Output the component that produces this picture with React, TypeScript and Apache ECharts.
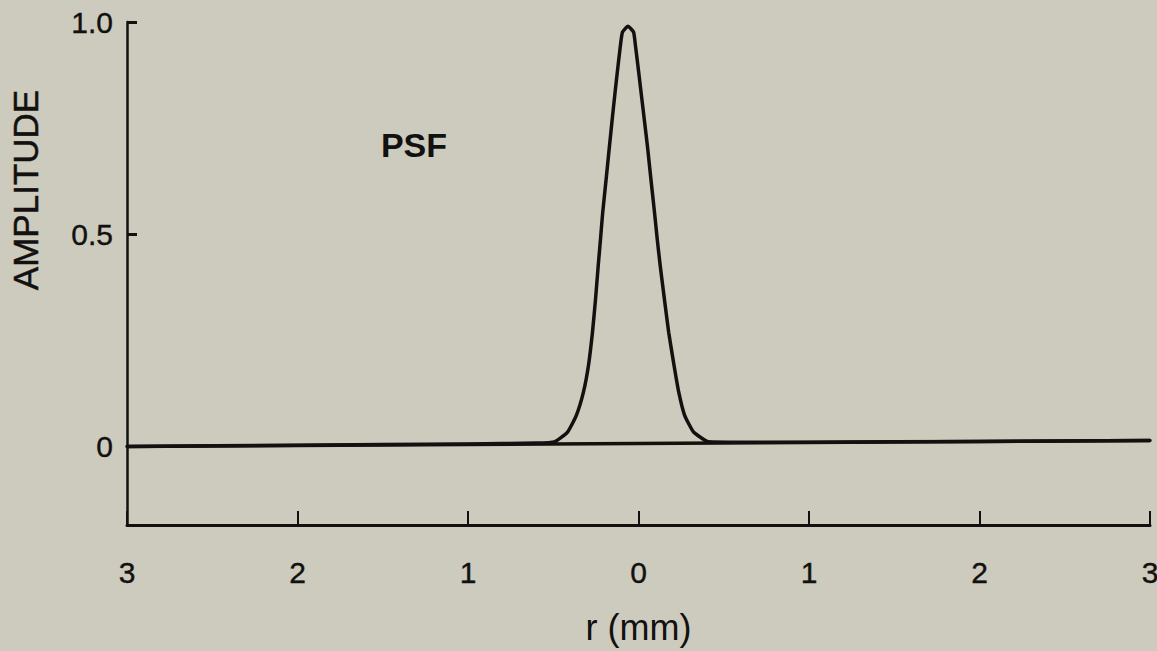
import React, { useEffect, useRef } from "react";
import * as echarts from "echarts";

// r (mm) positions, left to right
const rValues = [
  -3, -2, -1, -0.6, -0.493, -0.416, -0.364, -0.323, -0.293, -0.27, -0.252, -0.236,
  -0.223, -0.21, -0.19, -0.17, -0.15, -0.129, -0.106, -0.094, -0.062, -0.029,
  -0.018, 0.006, 0.029, 0.052, 0.073, 0.094, 0.11, 0.127, 0.152, 0.177, 0.208,
  0.236, 0.27, 0.323, 0.411, 0.6, 1, 2, 3,
];
// PSF amplitude at each r
const amplitude = [
  0, 0.003, 0.006, 0.008, 0.011, 0.034, 0.074, 0.128, 0.192, 0.269, 0.347, 0.427,
  0.488, 0.551, 0.629, 0.709, 0.787, 0.865, 0.945, 0.976, 0.99, 0.976,
  0.945, 0.865, 0.787, 0.709, 0.629, 0.551, 0.488, 0.427, 0.347, 0.269, 0.192,
  0.128, 0.074, 0.034, 0.011, 0.01, 0.01, 0.012, 0.014,
];
// straight zero line drawn under the peak
const baselineR = [-3, 3];
const baselineAmp = [0, 0.014];

const yLabelValues = [0, 0.5, 1];
const yTickValues = [0.5, 1];

const xAxisTitle = "r (mm)";
const yAxisTitle = "AMPLITUDE";
const curveLabel = "PSF";

const INK = "#121110";
const FONT = "'Liberation Sans', Arial, Helvetica, sans-serif";

export default function App() {
  const ref = useRef<HTMLDivElement>(null);

  useEffect(() => {
    if (!ref.current) return;
    const chart = echarts.init(ref.current, null, { renderer: "svg" });
    const curve = rValues.map((r, i) => [r, amplitude[i]]);
    const base = baselineR.map((r, i) => [r, baselineAmp[i]]);

    const boldish = { textBorderColor: INK, textBorderWidth: 0.4 };

    chart.setOption({
      animation: false,
      backgroundColor: "#cdcbbd",
      textStyle: { fontFamily: FONT, color: INK },
      grid: {
        left: 127,
        right: 7,
        top: 22,
        bottom: 126,
        containLabel: false,
        outerBoundsMode: "none",
      },
      xAxis: {
        type: "value",
        min: -3,
        max: 3,
        interval: 1,
        name: xAxisTitle,
        nameLocation: "middle",
        nameGap: 84,
        nameTextStyle: { fontSize: 36, color: INK, fontFamily: FONT },
        axisLine: { show: true, onZero: false, lineStyle: { color: INK, width: 3 } },
        axisTick: { show: true, inside: true, length: 14, lineStyle: { color: INK, width: 2 } },
        axisLabel: {
          show: true,
          fontSize: 30,
          color: INK,
          margin: 32,
          fontFamily: FONT,
          hideOverlap: false,
          ...boldish,
          formatter: (v: number) => String(Math.abs(Math.round(v))),
        },
        splitLine: { show: false },
      },
      yAxis: {
        type: "value",
        min: -0.185,
        max: 1,
        axisLine: { show: true, onZero: false, lineStyle: { color: INK, width: 2.5 } },
        axisTick: {
          show: true,
          inside: true,
          length: 10,
          customValues: yTickValues,
          lineStyle: { color: INK, width: 3 },
        },
        axisLabel: {
          show: true,
          fontSize: 30,
          color: INK,
          margin: 14,
          fontFamily: FONT,
          customValues: yLabelValues,
          ...boldish,
          formatter: (v: number) => (v === 0 ? "0" : v.toFixed(1)),
        },
        splitLine: { show: false },
      },
      graphic: [
        {
          type: "text",
          x: 25,
          y: 190,
          rotation: Math.PI / 2,
          style: {
            text: yAxisTitle,
            fontSize: 35,
            fontFamily: FONT,
            fill: INK,
            stroke: INK,
            lineWidth: 0.5,
            align: "center",
            verticalAlign: "middle",
          },
        },
        {
          type: "text",
          x: 414,
          y: 145,
          style: {
            text: curveLabel,
            fontSize: 34,
            fontWeight: "bold",
            fontFamily: FONT,
            fill: INK,
            align: "center",
            verticalAlign: "middle",
          },
        },
      ],
      series: [
        {
          type: "line",
          name: "baseline",
          data: base,
          showSymbol: false,
          lineStyle: { color: INK, width: 3.5 },
          silent: true,
        },
        {
          type: "line",
          name: curveLabel,
          data: curve,
          showSymbol: false,
          smooth: 0.15,
          lineStyle: { color: INK, width: 3.5, join: "round", cap: "round" },
        },
      ],
    });

    return () => chart.dispose();
  }, []);

  return (
    <div
      ref={ref}
      style={{ position: "absolute", left: 0, top: 0, width: 1157, height: 651 }}
    />
  );
}
